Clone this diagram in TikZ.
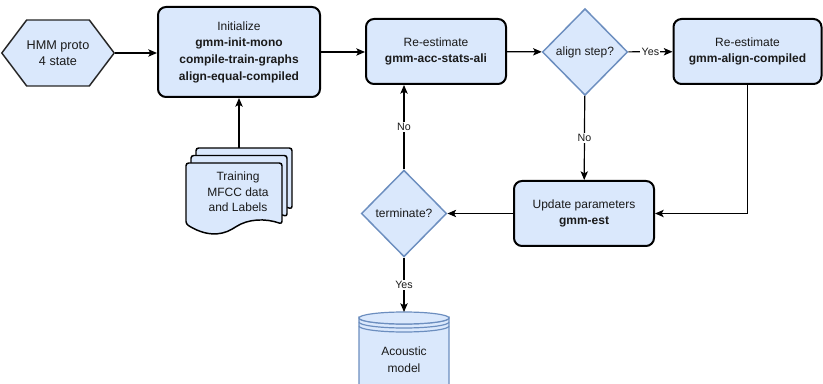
\documentclass[tikz,border=0pt]{standalone}
\usepackage{fontspec}
\setmainfont{Liberation Sans}
\usetikzlibrary{arrows.meta,shapes.geometric,shapes.symbols}
\definecolor{boxfill}{HTML}{DAE8FC}
\definecolor{boxline}{HTML}{6C8EBF}
\definecolor{txt}{HTML}{1A1A1A}

\begin{document}
\begin{tikzpicture}[x=0.75pt,y=-0.75pt,
  font=\fontsize{9}{12.5}\selectfont, text=txt,
  arr/.style={-{Stealth[length=6.5pt,width=5.5pt,inset=1.5pt]}, line width=0.9pt},
  stepbox/.style={draw=black, line width=1.5pt, fill=boxfill, rounded corners=6pt, align=center, inner sep=2pt},
  choice/.style={diamond, draw=boxline, line width=1.1pt, fill=boxfill, aspect=1, inner sep=0pt, minimum width=64pt, minimum height=65pt},
  lbl/.style={fill=white, font=\fontsize{8}{9.5}\selectfont, inner sep=1pt}]

\useasboundingbox (0,0) rectangle (823,384);

% HMM prototype
\node[signal, signal to=west and east, signal pointer angle=106, draw=black!85, line width=1.1pt, fill=boxfill,
  minimum width=75pt, minimum height=49.5pt, inner sep=0pt, align=center,
  font=\fontsize{9.5}{12}\selectfont] (hmm) at (58,53) {HMM proto\\4 state};

% Initialize
\node[stepbox, minimum width=121.5pt, minimum height=67.5pt] (init) at (239,52)
  {Initialize\\\textbf{gmm-init-mono}\\\textbf{compile-train-graphs}\\\textbf{align-equal-compiled}};

% Re-estimate (stats)
\node[stepbox, minimum width=105pt, minimum height=48.75pt] (reest) at (436,51.5)
  {Re-estimate\\\textbf{gmm-acc-stats-ali}};

% align step?
\node[choice] (align) at (585,52) {align step?};

% Re-estimate (align)
\node[stepbox, minimum width=111pt, minimum height=48.75pt] (realign) at (747.5,51.5)
  {Re-estimate\\\textbf{gmm-align-compiled}};

% Update parameters
\node[stepbox, minimum width=105pt, minimum height=48.75pt] (update) at (584,213.5)
  {Update parameters\\\textbf{gmm-est}};

% terminate?
\node[choice] (term) at (404,213.5) {terminate?};

% Training data (stacked sheets)
\foreach \d in {2,1,0} {
  \draw[line width=1.1pt, fill=boxfill, rounded corners=2pt, shift={(5*\d,-7.5*\d)}]
    (186,224) -- (186,163) -- (282,163) -- (282,224)
    .. controls (265,218) and (248,219) .. (234,228)
    .. controls (220,236) and (205,236) .. (186,224) -- cycle;
}
\node[align=center, font=\fontsize{9}{11.5}\selectfont] (train) at (238,192) {Training\\MFCC data\\and Labels};
\coordinate (dtop) at (239,148);

% Acoustic model
\draw[draw=boxline, fill=boxfill, line width=0.9pt] (359,318) -- (359,400) -- (449,400) -- (449,318)
  arc[start angle=0, end angle=-180, x radius=33.75pt, y radius=4.5pt] -- cycle;
\draw[draw=boxline, fill=boxfill, line width=0.9pt] (404,318) ellipse [x radius=33.75pt, y radius=4.5pt];
\draw[boxline, line width=0.9pt] (359,322) arc[start angle=180, end angle=360, x radius=33.75pt, y radius=4.5pt];
\draw[boxline, line width=0.9pt] (359,326) arc[start angle=180, end angle=360, x radius=33.75pt, y radius=4.5pt];
\coordinate (cyltop) at (404,312);
\node[align=center] (acoustic) at (404,360) {Acoustic\\model};

% Connectors
\draw[arr] (hmm.east) -- (hmm.east -| init.west);
\draw[arr] (init.east) -- (init.east -| reest.west);
\draw[arr] (reest) -- (align);
\draw[arr] (align) -- node[lbl] {Yes} (realign);
\draw[arr] (align) -- node[lbl] {No} (update);
\draw[arr] (realign.south) |- (update.east);
\draw[arr] (update) -- (term);
\draw[arr] (term) -- node[lbl] {No} (term |- reest.south);
\draw[arr] (term) -- node[lbl] {Yes} (cyltop);
\draw[arr] (dtop) -- (init);

\end{tikzpicture}
\end{document}
